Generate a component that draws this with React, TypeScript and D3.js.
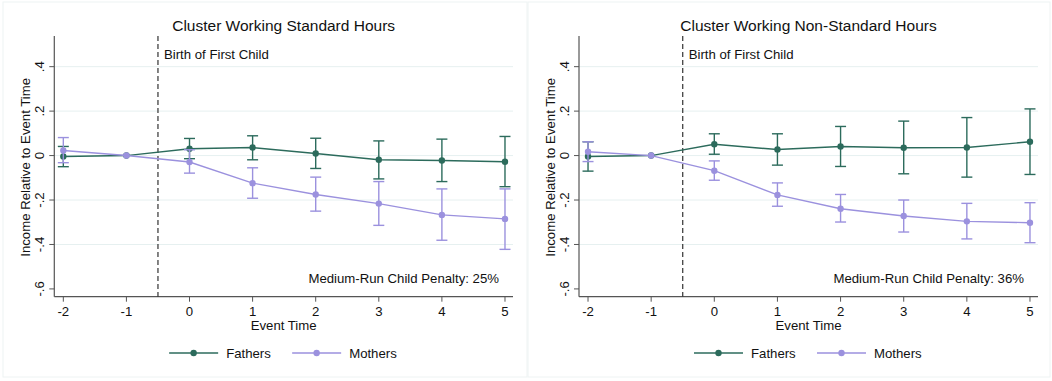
import React from "react";
import * as d3 from "d3";

const eventTimes = [-2, -1, 0, 1, 2, 3, 4, 5];
const yTicks = [0.4, 0.2, 0, -0.2, -0.4, -0.6];
const yTickLabels = [".4", ".2", "0", "-.2", "-.4", "-.6"];
const gridValues = [0.4, 0.2, 0, -0.2, -0.4];

const panelTitles = ["Cluster Working Standard Hours", "Cluster Working Non-Standard Hours"];
const penaltyLabels = ["Medium-Run Child Penalty: 25%", "Medium-Run Child Penalty: 36%"];
const seriesNames = ["Fathers", "Mothers"];

// Standard hours
const stdFathers = [-0.004, 0, 0.031, 0.036, 0.009, -0.019, -0.022, -0.028];
const stdFathersLo = [-0.05, null, -0.014, -0.019, -0.058, -0.105, -0.117, -0.14];
const stdFathersHi = [0.041, null, 0.077, 0.089, 0.078, 0.066, 0.074, 0.086];
const stdMothers = [0.023, 0, -0.029, -0.124, -0.175, -0.216, -0.267, -0.285];
const stdMothersLo = [-0.032, null, -0.079, -0.192, -0.25, -0.314, -0.381, -0.422];
const stdMothersHi = [0.081, null, 0.026, -0.055, -0.097, -0.117, -0.15, -0.15];

// Non-standard hours
const nonFathers = [-0.004, 0, 0.051, 0.027, 0.041, 0.035, 0.036, 0.062];
const nonFathersLo = [-0.07, null, 0.006, -0.043, -0.049, -0.082, -0.097, -0.085];
const nonFathersHi = [0.062, null, 0.098, 0.098, 0.131, 0.155, 0.171, 0.21];
const nonMothers = [0.017, 0, -0.068, -0.177, -0.239, -0.272, -0.296, -0.302];
const nonMothersLo = [-0.027, null, -0.111, -0.228, -0.299, -0.344, -0.375, -0.392];
const nonMothersHi = [0.062, null, -0.024, -0.123, -0.175, -0.2, -0.215, -0.212];

const FATHER = "#2c6b5c";
const MOTHER = "#9b91de";
const GRID = "#e6f0f0";
const AXIS = "#555";
const FONT = "'Liberation Sans', Arial, Helvetica, sans-serif";
const FS = 13.2;

type Series = { name: string; color: string; y: number[]; lo: (number | null)[]; hi: (number | null)[] };

function Panel({ x0, x1, title, penalty, series, frame }: { x0: number; x1: number; title: string; penalty: string; series: Series[]; frame: [number, number] }) {
  const top = 36;
  const bottom = 296.7;
  const x = d3.scaleLinear().domain([-2.143, 5.127]).range([x0, x1]);
  const y = d3.scaleLinear().domain([-0.635, 0.538]).range([bottom, top]);
  const cx = (x0 + x1) / 2;
  const line = d3
    .line<number>()
    .x((_, i) => x(eventTimes[i]))
    .y((v) => y(v));
  const cap = 5.5;
  return (
    <g fontFamily={FONT}>
      <rect x={frame[0]} y={2} width={frame[1] - frame[0]} height={375} fill="#fff" stroke="#eef3f3" strokeWidth={1} />
      <text x={cx} y={30.5} textAnchor="middle" fontSize={15.5} fill="#111">
        {title}
      </text>
      {gridValues.map((g) => (
        <line key={g} x1={x0} x2={x1} y1={y(g)} y2={y(g)} stroke={GRID} strokeWidth={1} />
      ))}
      <line x1={x0} x2={x0} y1={top} y2={bottom} stroke={AXIS} strokeWidth={1.2} />
      <line x1={x0} x2={x1} y1={bottom} y2={bottom} stroke={AXIS} strokeWidth={1.2} />
      {yTicks.map((t, i) => (
        <g key={t}>
          <line x1={x0 - 5} x2={x0} y1={y(t)} y2={y(t)} stroke={AXIS} strokeWidth={1} />
          <text transform={`translate(${x0 - 10},${y(t)}) rotate(-90)`} textAnchor="middle" fontSize={FS} fill="#111">
            {yTickLabels[i]}
          </text>
        </g>
      ))}
      {eventTimes.map((t) => (
        <g key={t}>
          <line x1={x(t)} x2={x(t)} y1={bottom} y2={bottom + 5} stroke={AXIS} strokeWidth={1} />
          <text x={x(t)} y={bottom + 19.5} textAnchor="middle" fontSize={FS} fill="#111">
            {t}
          </text>
        </g>
      ))}
      <text x={cx} y={bottom + 33.5} textAnchor="middle" fontSize={FS} fill="#111">
        Event Time
      </text>
      <text transform={`translate(${x0 - 24.5},${(top + bottom) / 2 + 1}) rotate(-90)`} textAnchor="middle" fontSize={FS} fill="#111">
        Income Relative to Event Time
      </text>
      <line x1={x(-0.5)} x2={x(-0.5)} y1={top} y2={bottom} stroke="#333" strokeWidth={1.2} strokeDasharray="5,3" />
      <text x={x(-0.5) + 6} y={58.5} fontSize={FS} fill="#111">
        Birth of First Child
      </text>
      <text x={x1 - 14} y={282.5} textAnchor="end" fontSize={FS} fill="#111">
        {penalty}
      </text>
      {series.map((s) => (
        <g key={s.name}>
          {eventTimes.map((t, i) =>
            s.lo[i] === null ? null : (
              <g key={t} stroke={s.color} strokeWidth={1.4}>
                <line x1={x(t)} x2={x(t)} y1={y(s.lo[i] as number)} y2={y(s.hi[i] as number)} />
                <line x1={x(t) - cap} x2={x(t) + cap} y1={y(s.lo[i] as number)} y2={y(s.lo[i] as number)} />
                <line x1={x(t) - cap} x2={x(t) + cap} y1={y(s.hi[i] as number)} y2={y(s.hi[i] as number)} />
              </g>
            )
          )}
          <path d={line(s.y) || ""} fill="none" stroke={s.color} strokeWidth={1.4} />
          {eventTimes.map((t, i) => (
            <circle key={t} cx={x(t)} cy={y(s.y[i])} r={3.2} fill={s.color} />
          ))}
        </g>
      ))}
      {series.map((s, k) => {
        const lx = cx - 114.5 + k * 123;
        return (
          <g key={s.name}>
            <line x1={lx} x2={lx + 49} y1={353} y2={353} stroke={s.color} strokeWidth={1.4} />
            <circle cx={lx + 24.5} cy={353} r={3.2} fill={s.color} />
            <text x={lx + 57} y={357.6} fontSize={FS} fill="#111">
              {s.name}
            </text>
          </g>
        );
      })}
    </g>
  );
}

export default function App() {
  const stdSeries: Series[] = [
    { name: seriesNames[0], color: FATHER, y: stdFathers, lo: stdFathersLo, hi: stdFathersHi },
    { name: seriesNames[1], color: MOTHER, y: stdMothers, lo: stdMothersLo, hi: stdMothersHi },
  ];
  const nonSeries: Series[] = [
    { name: seriesNames[0], color: FATHER, y: nonFathers, lo: nonFathersLo, hi: nonFathersHi },
    { name: seriesNames[1], color: MOTHER, y: nonMothers, lo: nonMothersLo, hi: nonMothersHi },
  ];
  return (
    <svg width={1052} height={381} style={{ position: "absolute", left: 0, top: 0, background: "#fff" }}>
      <rect x={0} y={0} width={1052} height={381} fill="#fff" />
      <Panel x0={54.3} x1={513} title={panelTitles[0]} penalty={penaltyLabels[0]} series={stdSeries} frame={[3, 527]} />
      <Panel x0={579} x1={1038} title={panelTitles[1]} penalty={penaltyLabels[1]} series={nonSeries} frame={[528, 1050]} />
    </svg>
  );
}
